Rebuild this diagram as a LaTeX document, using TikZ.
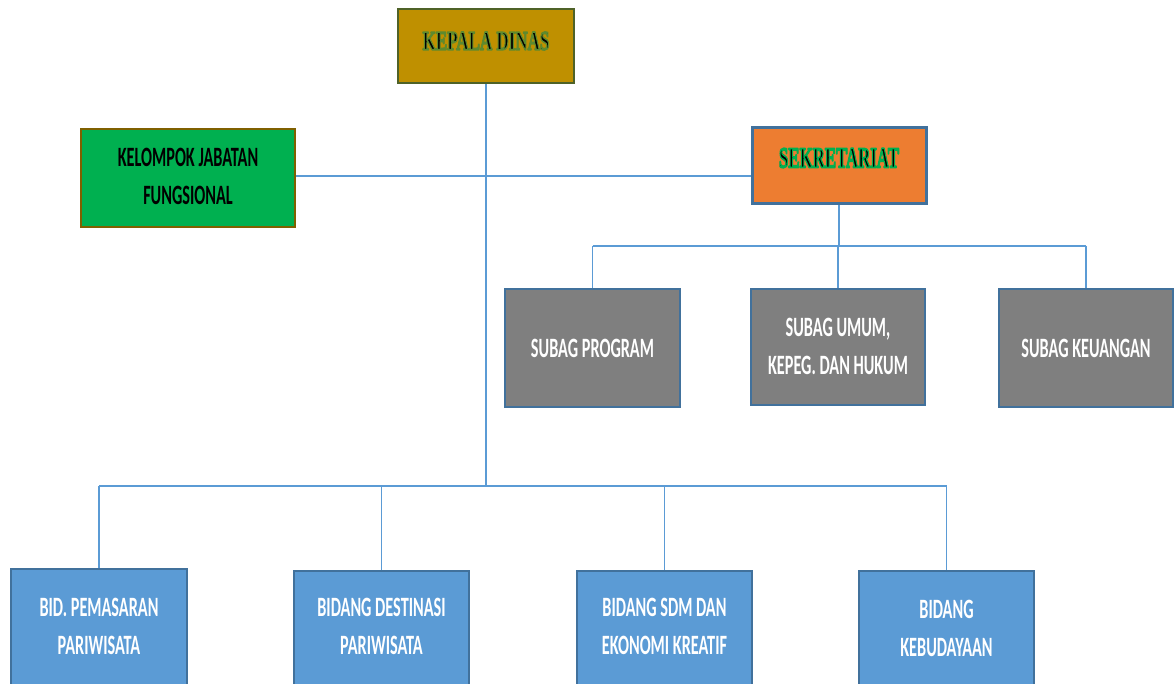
\documentclass[tikz,border=0pt]{standalone}
\usepackage{fontspec}
\setmainfont{Carlito}
\newfontfamily\serifb{Liberation Serif}
\usepackage{graphicx}
\definecolor{linec}{HTML}{5B9BD5}
\definecolor{gold}{HTML}{BF9000}
\definecolor{olive}{HTML}{4F6228}
\definecolor{fgreen}{HTML}{00B050}
\definecolor{brownb}{HTML}{7F6000}
\definecolor{orangef}{HTML}{ED7D31}
\definecolor{blueb}{HTML}{41719C}
\definecolor{grayf}{HTML}{7F7F7F}
\definecolor{bluef}{HTML}{5B9BD5}
% black text with a coloured outline (PDF text render mode 2)
\newcommand\glowit[3]{\special{pdf:code #1 RG #2 w 1 j 2 Tr}#3\special{pdf:code 0 Tr}}
\newcommand\cond[1]{\scalebox{0.58}[1]{\begin{tabular}{@{}c@{}}#1\end{tabular}}}
\begin{document}
\begin{tikzpicture}[x=1pt,y=-1pt,
  box/.style={draw, inner sep=0pt, line width=#1},
  box/.default=2pt,
  lbl/.style={font=\fontsize{28}{38}\selectfont\bfseries, inner sep=0pt},
  conn/.style={draw=linec, line width=1.1pt}]
\useasboundingbox (0,0) rectangle (1174,684);
\clip (0,0) rectangle (1174,684);
% boxes
\node[box, fill=gold, draw=olive, minimum width=176, minimum height=74] (kd) at (486,46) {};
\node[box, fill=fgreen, draw=brownb, minimum width=214, minimum height=98] (kf) at (188,178) {};
\node[box=3pt, fill=orangef, draw=blueb, minimum width=174, minimum height=76] (sk) at (839,166) {};
\node[box, fill=grayf, draw=blueb, minimum width=175, minimum height=118] (sp) at (592.5,348) {};
\node[box, fill=grayf, draw=blueb, minimum width=174, minimum height=116] (su) at (838,347) {};
\node[box, fill=grayf, draw=blueb, minimum width=174, minimum height=118] (skeu) at (1086,348) {};
\node[box=1.5pt, fill=bluef, draw=blueb, minimum width=176, minimum height=130] (b1) at (99,634) {};
\node[box=1.5pt, fill=bluef, draw=blueb, minimum width=175, minimum height=130] (b2) at (381.5,636) {};
\node[box=1.5pt, fill=bluef, draw=blueb, minimum width=175, minimum height=130] (b3) at (664.5,636) {};
\node[box=1.5pt, fill=bluef, draw=blueb, minimum width=175, minimum height=130] (b4) at (946.5,636) {};
% texts
\node[lbl, text=black, font=\fontsize{27}{30}\selectfont\serifb\bfseries] (kdt) at ([yshift=5pt]kd.center) {\scalebox{0.63}[1]{\glowit{0.37 0.54 0.18}{1.6}{KEPALA DINAS}}};
\node[lbl, text=black, font=\fontsize{29}{30}\selectfont\serifb\bfseries] (skt) at ([yshift=8pt]sk.center) {\scalebox{0.58}[1]{\glowit{0 0.69 0.31}{1.8}{SEKRETARIAT}}};
\node[lbl, text=black] (kft) at (kf.center) {\cond{KELOMPOK JABATAN\\FUNGSIONAL}};
\node[lbl, text=white] (spt) at ([yshift=-2pt]sp.center) {\cond{SUBAG PROGRAM}};
\node[lbl, text=white] (sut) at ([yshift=-1pt]su.center) {\cond{SUBAG UMUM,\\KEPEG. DAN HUKUM}};
\node[lbl, text=white] (skeut) at ([yshift=-2pt]skeu.center) {\cond{SUBAG KEUANGAN}};
\node[lbl, text=white] (b1t) at (99,628) {\cond{BID. PEMASARAN\\PARIWISATA}};
\node[lbl, text=white] (b2t) at (381.5,628) {\cond{BIDANG DESTINASI\\PARIWISATA}};
\node[lbl, text=white] (b3t) at (664.5,628) {\cond{BIDANG SDM DAN\\EKONOMI KREATIF}};
\node[lbl, text=white] (b4t) at (946.5,630) {\cond{BIDANG\\KEBUDAYAAN}};
% connectors
\coordinate (j1) at (486,176);
\coordinate (j2) at (486,486);
\coordinate (s1) at (839,246);
\draw[conn] (kd.south) -- (j2);
\draw[conn] (kf.east |- j1) -- (sk.west |- j1);
\draw[conn] (sk.south) -- (s1);
\draw[conn] (sp.north |- s1) -- (skeu.north |- s1);
\draw[conn] (sp.north |- s1) -- (sp.north);
\draw[conn] (su.north |- s1) -- (su.north);
\draw[conn] (skeu.north |- s1) -- (skeu.north);
\draw[conn] (b1.north |- j2) -- (b4.north |- j2);
\draw[conn] (b1.north |- j2) -- (b1.north);
\draw[conn] (b2.north |- j2) -- (b2.north);
\draw[conn] (b3.north |- j2) -- (b3.north);
\draw[conn] (b4.north |- j2) -- (b4.north);
\end{tikzpicture}
\end{document}
